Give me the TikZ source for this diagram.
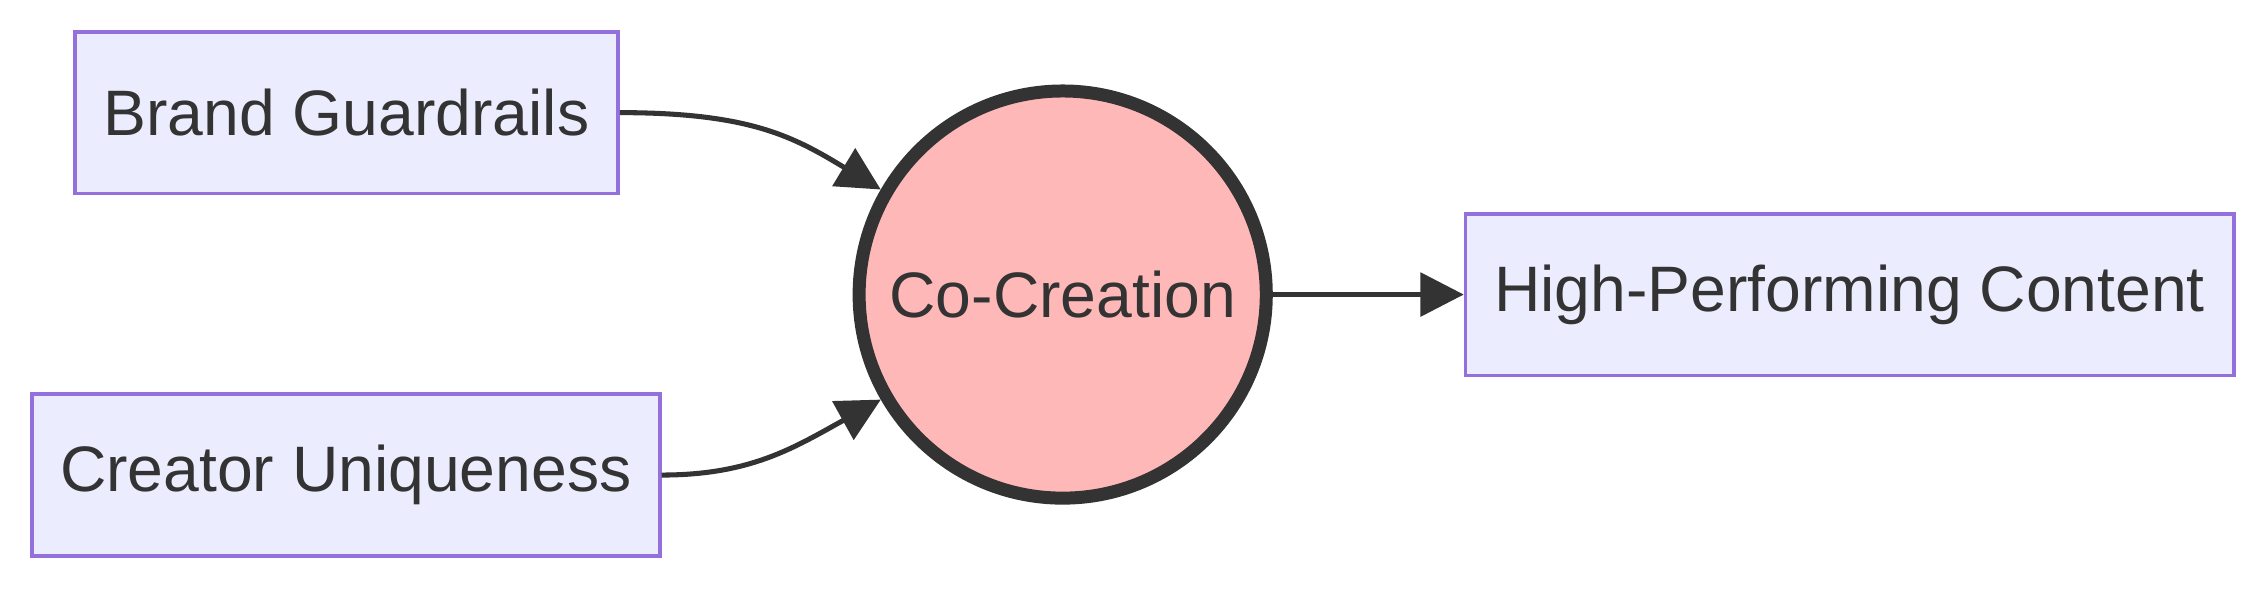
\documentclass[tikz,border=0pt]{standalone}
\usepackage{fontspec}
\setmainfont{Liberation Sans}
\usetikzlibrary{arrows.meta}
\definecolor{boxfill}{HTML}{ECECFF}
\definecolor{boxline}{HTML}{9370DB}
\definecolor{ink}{HTML}{333333}
\definecolor{circfill}{HTML}{FFB8B8}
\begin{document}
\begin{tikzpicture}[x=1pt,y=-1pt,
  box/.style={draw=boxline,fill=boxfill,line width=2.5pt,text=ink,font=\fontsize{44.5}{52}\selectfont,inner sep=0pt},
  edge/.style={draw=ink,line width=3.5pt,-{Triangle[length=30pt,width=30pt]}}]
\useasboundingbox (0,0) rectangle (1568,408);
\node[box,minimum width=376pt,minimum height=112pt] (bg) at (240,78) {Brand Guardrails};
\node[box,minimum width=435pt,minimum height=112pt] (cu) at (239.5,329) {Creator Uniqueness};
\node[box,minimum width=532pt,minimum height=112pt] (hp) at (1281,204) {High-Performing Content};
\node[circle,draw=ink,fill=circfill,line width=9pt,minimum size=282pt,text=ink,font=\fontsize{44.5}{52}\selectfont,inner sep=0pt] (cc) at (736,204) {Co-Creation};
\draw[edge] (bg.east) .. controls (520,78) and (550,95) .. (cc.150);
\draw[edge] (cu.east) .. controls (520,329) and (550,310) .. (cc.210);
\draw[edge] (cc.east) -- (hp.west);
\end{tikzpicture}
\end{document}
